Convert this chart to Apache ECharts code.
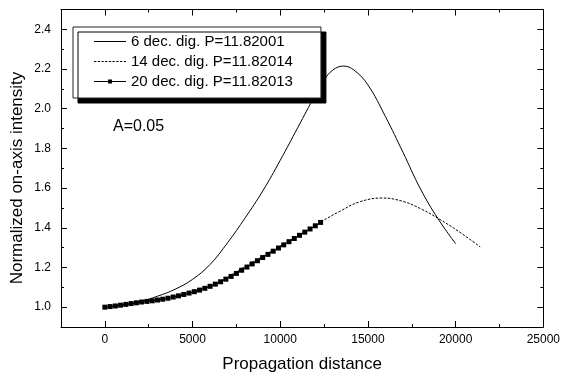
<!DOCTYPE html>
<html>
<head>
<meta charset="utf-8">
<script src="https://cdn.jsdelivr.net/npm/echarts@6/dist/echarts.min.js"></script>
<style>html,body{margin:0;padding:0;background:#fff}#c{width:563px;height:378px}</style>
</head>
<body>
<div id="c"></div>
<script>
// ---- data ----
var xSolid = [0,1000,2000,3000,4000,5000,6000,7000,8000,9000,10000,11000,12000,12500,13000,13600,14200,15000,16000,17000,18000,19000,20000];
var ySolid = [1.000,1.010,1.028,1.055,1.090,1.140,1.215,1.325,1.450,1.585,1.740,1.905,2.070,2.145,2.195,2.215,2.195,2.120,1.960,1.780,1.595,1.445,1.320];

var xDashed = [0,2000,4000,6000,8000,10000,12000,12400,13400,14500,15800,17000,18100,19100,20200,21400];
var yDashed = [1.000,1.025,1.053,1.105,1.205,1.308,1.410,1.434,1.483,1.530,1.550,1.533,1.492,1.442,1.380,1.304];

var xSquares = [0,300,600,900,1200,1500,1800,2100,2400,2700,3000,3300,3600,3900,4200,4500,4800,5100,5400,5700,6000,6300,6600,6900,7200,7500,7800,8100,8400,8700,9000,9300,9600,9900,10200,10500,10800,11100,11400,11700,12000,12300];
var ySquares = [1.000,1.003,1.006,1.010,1.014,1.018,1.022,1.026,1.029,1.032,1.036,1.040,1.045,1.051,1.057,1.064,1.071,1.078,1.086,1.095,1.105,1.116,1.128,1.141,1.155,1.170,1.186,1.202,1.218,1.234,1.250,1.266,1.282,1.298,1.314,1.330,1.346,1.362,1.378,1.394,1.410,1.427];

var seriesNames = ['6 dec. dig. P=11.82001','14 dec. dig. P=11.82014','20 dec. dig. P=11.82013'];
var xMajorTicks = [0,5000,10000,15000,20000,25000];
var xMinorTicks = [2500,7500,12500,17500,22500];
var yMajorTicks = [1.0,1.2,1.4,1.6,1.8,2.0,2.2,2.4];
var yMinorTicks = [1.1,1.3,1.5,1.7,1.9,2.1,2.3];
var xTitle = 'Propagation distance';
var yTitle = 'Normalized on-axis intensity';
var annotation = 'A=0.05';

function zip(xs, ys){ return xs.map(function(x,i){ return [x, ys[i]]; }); }

var FONT = '"Liberation Sans", Arial, sans-serif';
var chart = echarts.init(document.getElementById('c'), null, {renderer:'canvas'});

function xAx(pos, ticks, len, showLine, showLabel, extra){
  var a = {
    type:'value', position:pos, min:-2500, max:25000, gridIndex:0,
    axisLine:{show:showLine, onZero:false, lineStyle:{color:'#000', width:1}},
    axisTick:{show:true, inside:true, length:len, customValues:ticks, lineStyle:{color:'#000', width:1}},
    axisLabel:{show:showLabel, customValues:ticks, color:'#000', fontSize:12, fontFamily:FONT, margin:7,
      formatter:function(v){ return String(Math.round(v)); }},
    splitLine:{show:false}
  };
  if (extra) for (var k in extra) a[k]=extra[k];
  return a;
}
function yAx(pos, ticks, len, showLine, showLabel){
  return {
    type:'value', position:pos, min:0.9, max:2.5, gridIndex:0,
    axisLine:{show:showLine, onZero:false, lineStyle:{color:'#000', width:1}},
    axisTick:{show:true, inside:true, length:len, customValues:ticks, lineStyle:{color:'#000', width:1}},
    axisLabel:{show:showLabel, customValues:ticks, color:'#000', fontSize:12, fontFamily:FONT, margin:10,
      formatter:function(v){ return Number(v).toFixed(1); }},
    splitLine:{show:false}
  };
}

var dashIcon = 'path://';
for (var i = 0; i < 9; i++) { var s = i*3.6; dashIcon += 'M'+s+',0H'+(s+2.2)+'V1H'+s+'Z'; }

var option = {
  animation:false,
  backgroundColor:'#fff',
  grid:{left:61, right:18, top:9.5, bottom:50.5, containLabel:false},
  xAxis:[
    xAx('bottom', xMajorTicks, 6, true, true, {name:xTitle, nameLocation:'middle', nameGap:29,
        nameTextStyle:{color:'#000', fontSize:17, fontFamily:FONT}}),
    xAx('bottom', xMinorTicks, 3, false, false),
    xAx('top', xMajorTicks, 6, true, false),
    xAx('top', xMinorTicks, 3, false, false)
  ],
  yAxis:[
    yAx('left', yMajorTicks, 6, true, true),
    yAx('left', yMinorTicks, 3, false, false),
    yAx('right', yMajorTicks, 6, true, false),
    yAx('right', yMinorTicks, 3, false, false)
  ],
  legend:{
    orient:'vertical', left:73, top:27,
    padding:[7,28,9,21],
    itemWidth:32, itemHeight:15, itemGap:5,
    backgroundColor:'#fff', borderColor:'#222', borderWidth:1,
    shadowColor:'#000', shadowBlur:0, shadowOffsetX:5, shadowOffsetY:5,
    textStyle:{color:'#000', fontSize:15, fontFamily:FONT, lineHeight:15},
    data:[
      {name:seriesNames[0], icon:'path://M0,0H32V1H0Z'},
      {name:seriesNames[1], icon:dashIcon},
      {name:seriesNames[2], icon:'path://M0,1.5H14V0H18V1.5H32V2.5H18V4H14V2.5H0Z'}
    ],
    itemStyle:{color:'#000'}
  },
  graphic:[
    {type:'text', x:17, y:178, rotation:Math.PI/2, z:100,
     style:{text:yTitle, fill:'#000', font:'17px '+FONT, align:'center', verticalAlign:'middle'}},
    {type:'text', x:113, y:127, z:100,
     style:{text:annotation, fill:'#000', font:'16px '+FONT, align:'left', verticalAlign:'middle'}}
  ],
  series:[
    {name:seriesNames[0], type:'line', xAxisIndex:0, yAxisIndex:0, data:zip(xSolid,ySolid),
     smooth:0.4, symbol:'none', lineStyle:{color:'#000', width:1}, itemStyle:{color:'#000'}},
    {name:seriesNames[1], type:'line', xAxisIndex:0, yAxisIndex:0, data:zip(xDashed,yDashed),
     smooth:0.4, symbol:'none', lineStyle:{color:'#000', width:1, type:[2.5,1.5]}, itemStyle:{color:'#000'}},
    {name:seriesNames[2], type:'line', xAxisIndex:0, yAxisIndex:0, data:zip(xSquares,ySquares),
     symbol:'rect', symbolSize:5, showSymbol:true, showAllSymbol:true,
     lineStyle:{color:'#000', width:1}, itemStyle:{color:'#000'}}
  ]
};
chart.setOption(option);
</script>
</body>
</html>
